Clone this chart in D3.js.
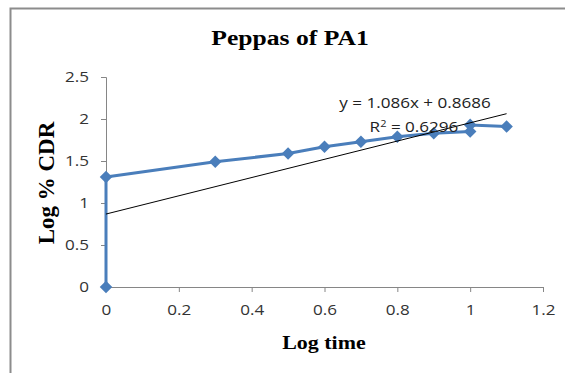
<html>
<head>
<style>
  body { margin: 0; background: #fff; }
  svg { display: block; }
</style>
</head>
<body>
<svg id="container" width="565" height="373"></svg>
<script src="https://cdn.jsdelivr.net/npm/d3@7"></script>
<script>
// values
let logTime = [0, 0, 0.3, 0.5, 0.6, 0.7, 0.8, 0.9, 1.0, 1.0, 1.1]
let logCDR  = [0, 1.31, 1.49, 1.59, 1.67, 1.73, 1.79, 1.83, 1.85, 1.93, 1.91]
let xTicks = [0, 0.2, 0.4, 0.6, 0.8, 1, 1.2]
let yTicks = [0, 0.5, 1, 1.5, 2, 2.5]
let slope = 1.086
let intercept = 0.8686
let trendRange = [0, 1.1]

let svg = d3.select("#container")
let stretch = 1.22   // the source picture is a bit wider than tall

// outer frame
svg.append("path")
    .attr("d", "M10.5,373 V8.5 H565")
    .attr("fill", "none")
    .attr("stroke", "#8c8c8c")
    .attr("stroke-width", 2)

let x = d3.scaleLinear().domain([0, 1.2]).range([106, 543])
let y = d3.scaleLinear().domain([0, 2.5]).range([287, 77])

let axisColor = "#868686"
let sans = "'Open Sans', sans-serif"
let serif = "'Liberation Serif', 'Times New Roman', serif"

function stretchText(sel) {
    // widen each label around its own anchor point
    sel.each(function () {
        let t = d3.select(this)
        let tx = +t.attr("x") || 0
        let ty = +t.attr("y") || 0
        t.attr("transform", "translate(" + tx + "," + ty + ") scale(" + stretch + ",1) translate(" + (-tx) + "," + (-ty) + ")")
    })
}

// x axis
let xAxis = svg.append("g")
    .attr("transform", "translate(0,287)")
    .call(d3.axisBottom(x).tickValues(xTicks).tickSize(5).tickPadding(13)
        .tickFormat(d => d3.format("")(+d.toFixed(1))))
xAxis.selectAll("line, path").attr("stroke", axisColor)
xAxis.selectAll("text").attr("fill", "#333").style("font", "14px " + sans)
    .attr("transform", "scale(" + stretch + ",1)")
    .attr("x", 0)

// y axis
let yAxis = svg.append("g")
    .attr("transform", "translate(106,0)")
    .call(d3.axisLeft(y).tickValues(yTicks).tickSize(5).tickPadding(12)
        .tickFormat(d => d3.format("")(d)))
yAxis.selectAll("line, path").attr("stroke", axisColor)
yAxis.selectAll("text").attr("fill", "#333").style("font", "14px " + sans)
stretchText(yAxis.selectAll("text"))

// data line
let data = logTime.map((t, i) => ({ t: t, v: logCDR[i] }))
let blue = "#4a7ebb"

svg.append("path")
    .datum(data)
    .attr("fill", "none")
    .attr("stroke", blue)
    .attr("stroke-width", 3)
    .attr("stroke-linejoin", "round")
    .attr("d", d3.line().x(d => x(d.t)).y(d => y(d.v)))

svg.selectAll(".pt")
    .data(data)
    .enter()
    .append("path")
    .attr("class", "pt")
    .attr("transform", d => "translate(" + x(d.t) + "," + y(d.v) + ")")
    .attr("d", d3.symbol().type(d3.symbolDiamond2).size(100))
    .attr("fill", blue)

// linear trendline
svg.append("line")
    .attr("x1", x(trendRange[0]))
    .attr("y1", y(slope * trendRange[0] + intercept))
    .attr("x2", x(trendRange[1]))
    .attr("y2", y(slope * trendRange[1] + intercept))
    .attr("stroke", "#000")
    .attr("stroke-width", 1)

let eq = svg.append("text")
    .attr("x", 415).attr("y", 108)
    .attr("text-anchor", "middle")
    .attr("fill", "#222")
    .style("font", "14px " + sans)
    .text("y = " + slope + "x + " + intercept)
stretchText(eq)

let r2 = svg.append("text")
    .attr("x", 414).attr("y", 132)
    .attr("text-anchor", "middle")
    .attr("fill", "#222")
    .style("font", "14px " + sans)
    .html("R<tspan dy='-5' font-size='9'>2</tspan><tspan dy='5'> = 0.6296</tspan>")
stretchText(r2)

// titles
let title = svg.append("text")
    .attr("x", 290).attr("y", 45)
    .attr("text-anchor", "middle")
    .style("font", "bold 21px " + serif)
    .text("Peppas of PA1")
stretchText(title)

let xTitle = svg.append("text")
    .attr("x", 324).attr("y", 349)
    .attr("text-anchor", "middle")
    .style("font", "bold 18px " + serif)
    .text("Log time")
stretchText(xTitle)

svg.append("text")
    .attr("transform", "translate(54,183) rotate(-90)")
    .attr("text-anchor", "middle")
    .style("font", "bold 23px " + serif)
    .text("Log % CDR")
</script>
</body>
</html>
